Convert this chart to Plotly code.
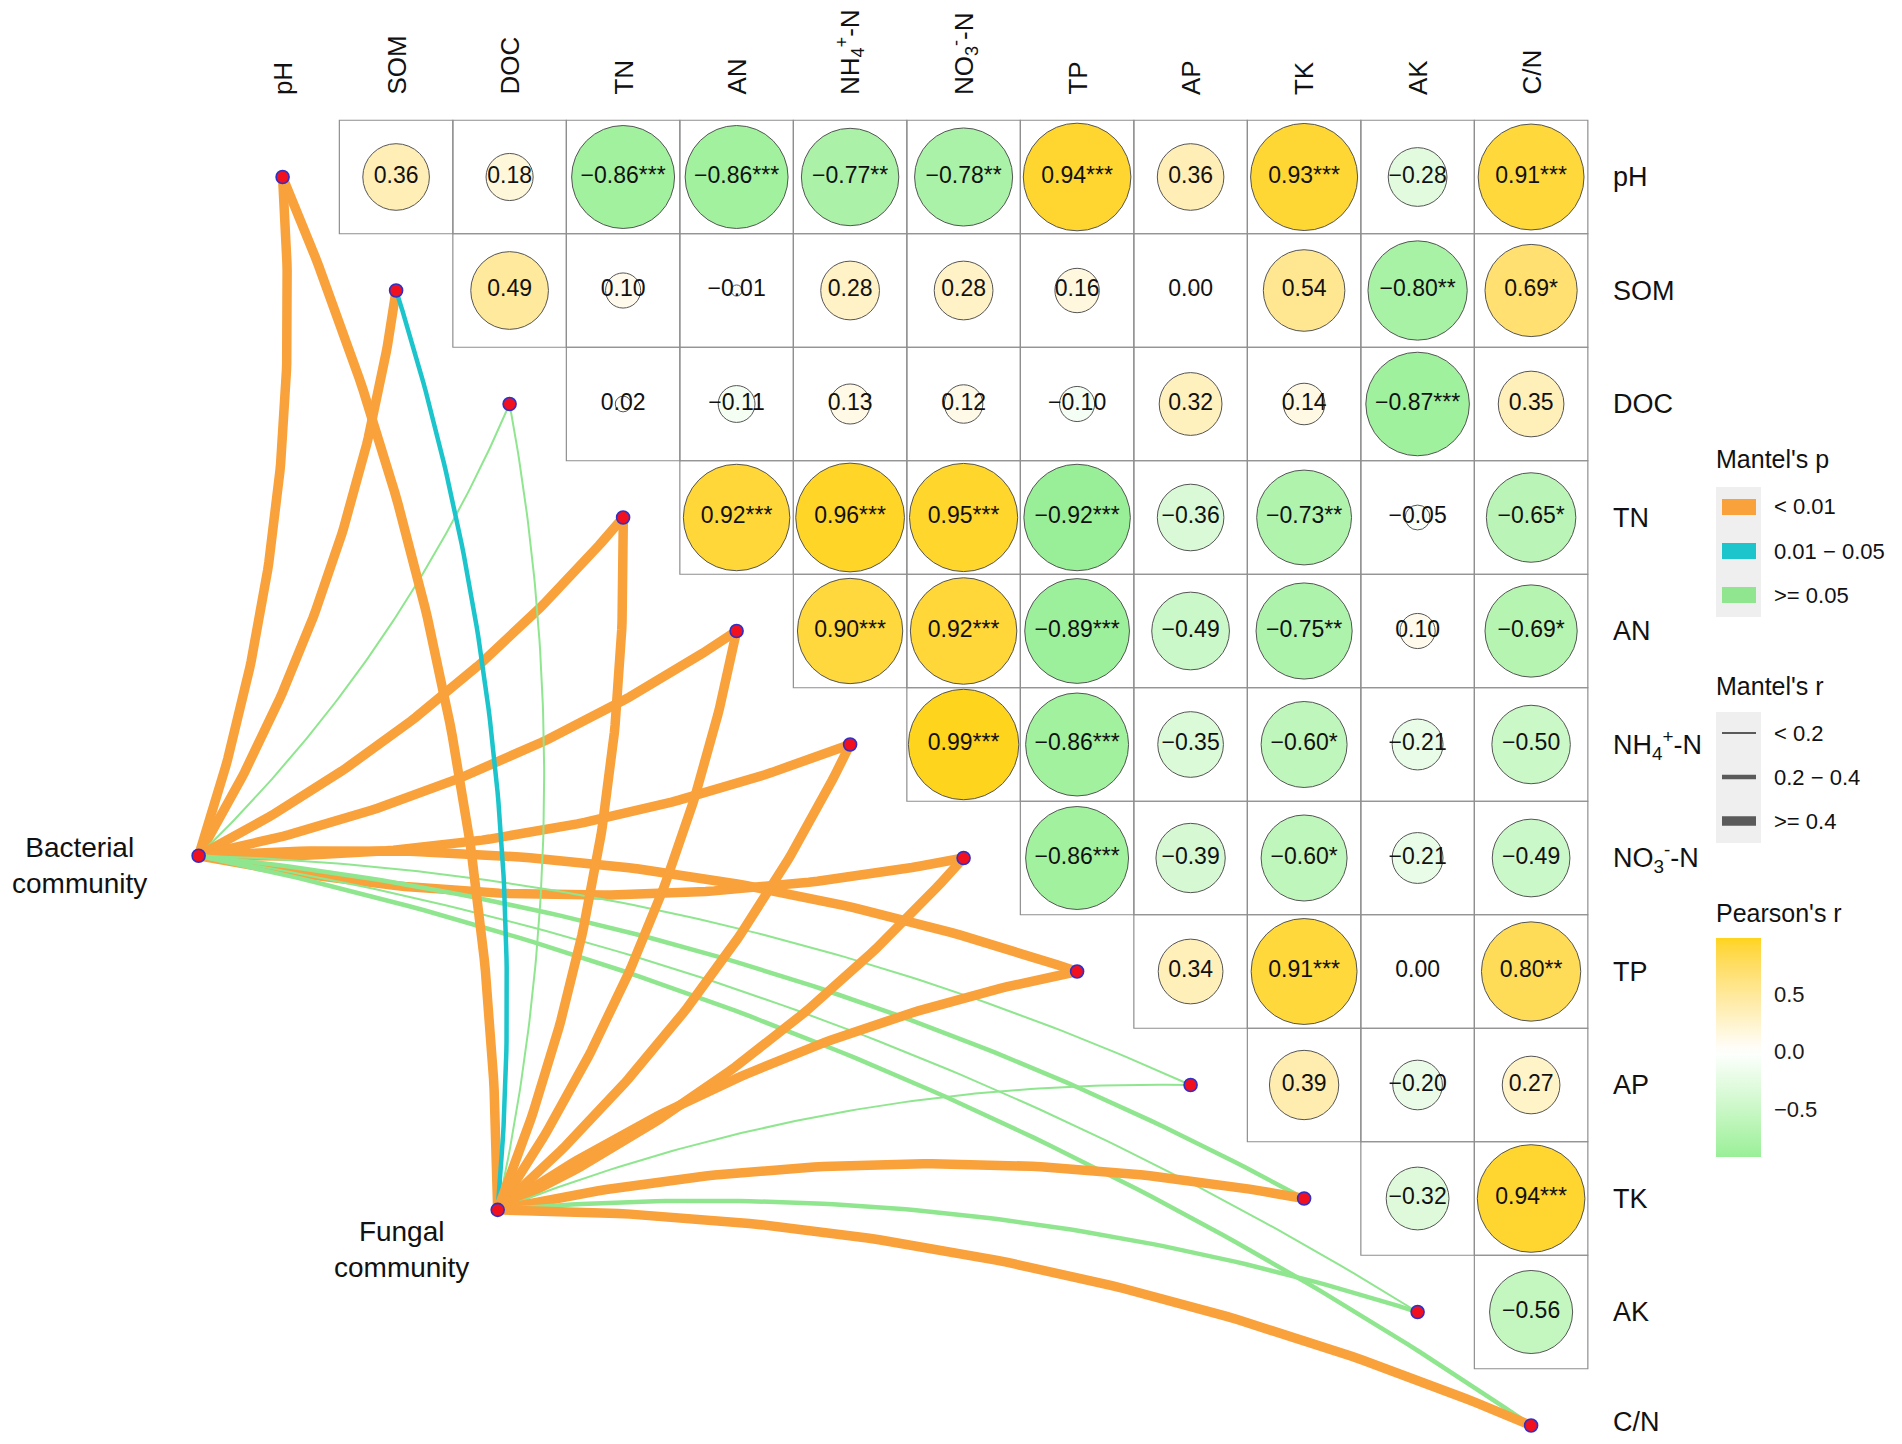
import numpy as np
import plotly.graph_objects as go

# ---------------- data ----------------
variables = ["pH", "SOM", "DOC", "TN", "AN", "NH4", "NO3", "TP", "AP", "TK", "AK", "C/N"]
var_labels = ["pH", "SOM", "DOC", "TN", "AN", "NH<sub>4</sub><sup>+</sup>-N",
              "NO<sub>3</sub><sup>-</sup>-N", "TP", "AP", "TK", "AK", "C/N"]

# Pearson's r (upper triangle): each row variable vs. the variables after it
r_pH = [0.36, 0.18, -0.86, -0.86, -0.77, -0.78, 0.94, 0.36, 0.93, -0.28, 0.91]
r_SOM = [0.49, 0.10, -0.01, 0.28, 0.28, 0.16, 0.00, 0.54, -0.80, 0.69]
r_DOC = [0.02, -0.11, 0.13, 0.12, -0.10, 0.32, 0.14, -0.87, 0.35]
r_TN = [0.92, 0.96, 0.95, -0.92, -0.36, -0.73, -0.05, -0.65]
r_AN = [0.90, 0.92, -0.89, -0.49, -0.75, 0.10, -0.69]
r_NH4 = [0.99, -0.86, -0.35, -0.60, -0.21, -0.50]
r_NO3 = [-0.86, -0.39, -0.60, -0.21, -0.49]
r_TP = [0.34, 0.91, 0.00, 0.80]
r_AP = [0.39, -0.20, 0.27]
r_TK = [-0.32, 0.94]
r_AK = [-0.56]

# significance marks
s_pH = ["", "", "***", "***", "**", "**", "***", "", "***", "", "***"]
s_SOM = ["", "", "", "", "", "", "", "", "**", "*"]
s_DOC = ["", "", "", "", "", "", "", "***", ""]
s_TN = ["***", "***", "***", "***", "", "**", "", "*"]
s_AN = ["***", "***", "***", "", "**", "", "*"]
s_NH4 = ["***", "***", "", "*", "", ""]
s_NO3 = ["***", "", "*", "", ""]
s_TP = ["", "***", "", "**"]
s_AP = ["", "", ""]
s_TK = ["", "***"]
s_AK = [""]

corr_rows = [r_pH, r_SOM, r_DOC, r_TN, r_AN, r_NH4, r_NO3, r_TP, r_AP, r_TK, r_AK]
sig_rows = [s_pH, s_SOM, s_DOC, s_TN, s_AN, s_NH4, s_NO3, s_TP, s_AP, s_TK, s_AK]

# Mantel test classes (community vs. each variable)
communities = ["Bacterial<br>community", "Fungal<br>community"]
bac_p = ["< 0.01", "< 0.01", ">= 0.05", "< 0.01", "< 0.01", "< 0.01", "< 0.01", "< 0.01",
         ">= 0.05", ">= 0.05", ">= 0.05", ">= 0.05"]
bac_r = [">= 0.4", ">= 0.4", "< 0.2", ">= 0.4", ">= 0.4", ">= 0.4", ">= 0.4", ">= 0.4",
         "< 0.2", "0.2 - 0.4", "< 0.2", "0.2 - 0.4"]
fun_p = ["< 0.01", "0.01 - 0.05", ">= 0.05", "< 0.01", "< 0.01", "< 0.01", "< 0.01", "< 0.01",
         ">= 0.05", "< 0.01", ">= 0.05", "< 0.01"]
fun_r = [">= 0.4", "0.2 - 0.4", "< 0.2", ">= 0.4", ">= 0.4", ">= 0.4", ">= 0.4", ">= 0.4",
         "< 0.2", ">= 0.4", "0.2 - 0.4", ">= 0.4"]
p_levels = ["< 0.01", "0.01 - 0.05", ">= 0.05"]
r_levels = ["< 0.2", "0.2 - 0.4", ">= 0.4"]
colorbar_ticks = [-0.5, 0.0, 0.5]

# ---------------- styles / layout ----------------
OFF = 8                      # page body margin of the browser
W, H = 1902 - 2 * OFF, 1444 - 2 * OFF
CELL = 113.5
X0PX, Y0PX = 282.6 - OFF, 177.0 - OFF
FONT = "Liberation Sans, Arial, sans-serif"
p_colors = {"< 0.01": "#F9A13B", "0.01 - 0.05": "#1BC5CB", ">= 0.05": "#8FE68F"}
r_widths = {"< 0.2": 2.0, "0.2 - 0.4": 4.5, ">= 0.4": 9.5}
LOW, MID, HIGH = "#90EE90", "#FFFFFF", "#FFD41C"
comm_nodes = [(-0.74, 5.98), (1.895, 9.10)]       # node positions (cell units)
comm_label_pos = [(-1.79, 6.07), (1.045, 9.45)]


def px(x):
    return (x - OFF) / W


def py(y):
    return 1 - (y - OFF) / H


# --- Lab colour interpolation (like ggplot's gradient2) ---
def _hex2rgb(h):
    return np.array([int(h[i:i + 2], 16) for i in (1, 3, 5)]) / 255.0


_M = np.array([[0.4124, 0.3576, 0.1805], [0.2126, 0.7152, 0.0722], [0.0193, 0.1192, 0.9505]])
_WHITE = np.array([0.95047, 1.0, 1.08883])


def _to_lab(h):
    c = _hex2rgb(h)
    lin = np.where(c <= 0.04045, c / 12.92, ((c + 0.055) / 1.055) ** 2.4)
    t = (_M @ lin) / _WHITE
    f = np.where(t > 0.008856, np.cbrt(t), 7.787 * t + 16 / 116)
    return np.array([116 * f[1] - 16, 500 * (f[0] - f[1]), 200 * (f[1] - f[2])])


def _from_lab(lab):
    fy = (lab[0] + 16) / 116
    f = np.array([fy + lab[1] / 500, fy, fy - lab[2] / 200])
    t = np.where(f ** 3 > 0.008856, f ** 3, (f - 16 / 116) / 7.787)
    lin = np.linalg.solve(_M, t * _WHITE)
    c = np.where(lin <= 0.0031308, 12.92 * lin, 1.055 * np.clip(lin, 0, None) ** (1 / 2.4) - 0.055)
    c = np.clip(c, 0, 1)
    return "rgb(%d,%d,%d)" % tuple(np.round(c * 255).astype(int))


all_r = [v for row in corr_rows for v in row]
cmin, cmax = min(all_r), max(all_r)
mscale = max(abs(cmin), abs(cmax))
lab_low, lab_mid, lab_high = _to_lab(LOW), _to_lab(MID), _to_lab(HIGH)
colorscale = []
for s in np.linspace(0, 1, 31):
    v = cmin + s * (cmax - cmin)
    p = v / mscale
    lab = lab_mid + (lab_high - lab_mid) * p if p >= 0 else lab_mid + (lab_low - lab_mid) * (-p)
    colorscale.append([float(s), _from_lab(lab)])

fig = go.Figure()

# ---------------- Mantel curves ----------------
def curve(p0, p1, bend, n=90):
    p0, p1 = np.asarray(p0, float), np.asarray(p1, float)
    d = p1 - p0
    L = np.hypot(d[0], d[1])
    nr = np.array([-d[1], d[0]]) / L          # right-hand normal (y axis points down)
    ctrl = (p0 + p1) / 2 + nr * bend * L
    t = np.linspace(0, 1, n)[:, None]
    pts = (1 - t) ** 2 * p0 + 2 * (1 - t) * t * ctrl + t ** 2 * p1
    return pts[:, 0], pts[:, 1]


for ci, (pcls, rcls) in enumerate([(bac_p, bac_r), (fun_p, fun_r)]):
    for k in range(len(variables)):
        side = 1 if k <= 6 else -1
        xs, ys = curve(comm_nodes[ci], (k, k), 0.1 * side)
        fig.add_trace(go.Scatter(x=xs, y=ys, mode="lines",
                                 line=dict(color=p_colors[pcls[k]], width=r_widths[rcls[k]]),
                                 hoverinfo="skip", showlegend=False))

# ---------------- correlation circles ----------------
cx, cy, cr, ct = [], [], [], []
for i, (row, sig) in enumerate(zip(corr_rows, sig_rows)):
    for m, (v, s) in enumerate(zip(row, sig)):
        j = i + 1 + m
        cx.append(j)
        cy.append(i)
        cr.append(v)
        ct.append(("%.2f" % v).replace("-", "\u2212") + s)

sizes = [max(3.0, 111.0 * np.sqrt(abs(v))) for v in cr]
fig.add_trace(go.Scatter(
    x=cx, y=cy, mode="markers",
    marker=dict(size=sizes, color=cr, colorscale=colorscale, cmin=cmin, cmax=cmax,
                line=dict(color="#555555", width=1), opacity=1,
                showscale=True,
                colorbar=dict(x=px(1716), xanchor="left", y=py(938), yanchor="top",
                              len=219, lenmode="pixels", thickness=45, thicknessmode="pixels",
                              outlinewidth=0, xpad=0, ypad=0,
                              tickvals=colorbar_ticks,
                              ticktext=[("%.1f" % t).replace("-", "\u2212") for t in colorbar_ticks],
                              ticks="outside", ticklen=9, tickcolor="rgba(0,0,0,0)",
                              tickfont=dict(size=22, color="#1a1a1a", family=FONT))),
    hoverinfo="skip", showlegend=False))

fig.add_trace(go.Scatter(
    x=cx, y=cy, mode="text", text=ct, textposition="middle center",
    textfont=dict(size=23, color="#111111", family=FONT),
    hoverinfo="skip", showlegend=False))

# ---------------- nodes ----------------
nx = list(range(len(variables))) + [c[0] for c in comm_nodes]
ny = list(range(len(variables))) + [c[1] for c in comm_nodes]
fig.add_trace(go.Scatter(x=nx, y=ny, mode="markers",
                         marker=dict(size=13, color="#F0101E", line=dict(color="#3030C8", width=1.6)),
                         hoverinfo="skip", showlegend=False))

# ---------------- grid cells ----------------
shapes = []
for i in range(len(variables) - 1):
    for j in range(i + 1, len(variables)):
        shapes.append(dict(type="rect", xref="x", yref="y", x0=j - 0.5, x1=j + 0.5,
                           y0=i - 0.5, y1=i + 0.5, line=dict(color="#8f8f8f", width=1.2),
                           fillcolor="rgba(0,0,0,0)", layer="below"))

# ---------------- labels ----------------
ann = []
last = len(var_labels) - 1
for k, lab in enumerate(var_labels):
    ann.append(dict(x=(1612 - OFF - X0PX) / CELL, y=k, xref="x", yref="y", text=lab,
                    showarrow=False, xanchor="left", yanchor="middle", borderpad=0,
                    yshift=4 if k == last else 0,
                    font=dict(size=27, color="#111111")))
    ann.append(dict(x=k, y=(97 - OFF - Y0PX) / CELL, xref="x", yref="y", text=lab, showarrow=False,
                    textangle=-90, xanchor="center", yanchor="bottom",
                    font=dict(size=26, color="#111111")))
for (lx, ly), lab in zip(comm_label_pos, communities):
    ann.append(dict(x=lx, y=ly, xref="x", yref="y", text=lab, showarrow=False,
                    xanchor="center", yanchor="middle", align="center",
                    font=dict(size=28, color="#111111")))

# ---------------- legends ----------------
leg_x0, leg_x1 = 1716, 1761
ann.append(dict(x=px(1714), y=py(459), xref="paper", yref="paper", text="Mantel's p",
                showarrow=False, xanchor="left", yanchor="middle", font=dict(size=25, color="#111111")))
shapes.append(dict(type="rect", xref="paper", yref="paper", x0=px(leg_x0), x1=px(leg_x1),
                   y0=py(487), y1=py(617), fillcolor="#EFEFEF", line=dict(width=0)))
for n, lev in enumerate(p_levels):
    yc = 507 + 44 * n
    shapes.append(dict(type="rect", xref="paper", yref="paper", x0=px(1722), x1=px(1756),
                       y0=py(yc - 8), y1=py(yc + 8), fillcolor=p_colors[lev], line=dict(width=0)))
    ann.append(dict(x=px(1772), y=py(yc), xref="paper", yref="paper",
                    text=lev.replace(" - ", " \u2212 "), showarrow=False, xanchor="left",
                    yanchor="middle", font=dict(size=22, color="#111111")))

ann.append(dict(x=px(1714), y=py(686), xref="paper", yref="paper", text="Mantel's r",
                showarrow=False, xanchor="left", yanchor="middle", font=dict(size=25, color="#111111")))
shapes.append(dict(type="rect", xref="paper", yref="paper", x0=px(leg_x0), x1=px(leg_x1),
                   y0=py(712), y1=py(843), fillcolor="#EFEFEF", line=dict(width=0)))
for n, lev in enumerate(r_levels):
    yc = 733 + 44 * n
    shapes.append(dict(type="line", xref="paper", yref="paper", x0=px(1722), x1=px(1756),
                       y0=py(yc), y1=py(yc), line=dict(color="#5a5a5a", width=r_widths[lev])))
    ann.append(dict(x=px(1772), y=py(yc), xref="paper", yref="paper",
                    text=lev.replace(" - ", " \u2212 "), showarrow=False, xanchor="left",
                    yanchor="middle", font=dict(size=22, color="#111111")))

ann.append(dict(x=px(1714), y=py(913), xref="paper", yref="paper", text="Pearson's r",
                showarrow=False, xanchor="left", yanchor="middle", font=dict(size=25, color="#111111")))

fig.update_layout(
    width=W, height=H, autosize=False,
    margin=dict(l=0, r=0, t=0, b=0, pad=0),
    paper_bgcolor="white", plot_bgcolor="white",
    font=dict(family=FONT, color="#111111"),
    xaxis=dict(range=[-X0PX / CELL, (W - X0PX) / CELL], visible=False, showgrid=False,
               zeroline=False, fixedrange=True),
    yaxis=dict(range=[(H - Y0PX) / CELL, -Y0PX / CELL], visible=False, showgrid=False,
               zeroline=False, fixedrange=True),
    shapes=shapes, annotations=ann, showlegend=False,
)

fig.write_html("out.html")
